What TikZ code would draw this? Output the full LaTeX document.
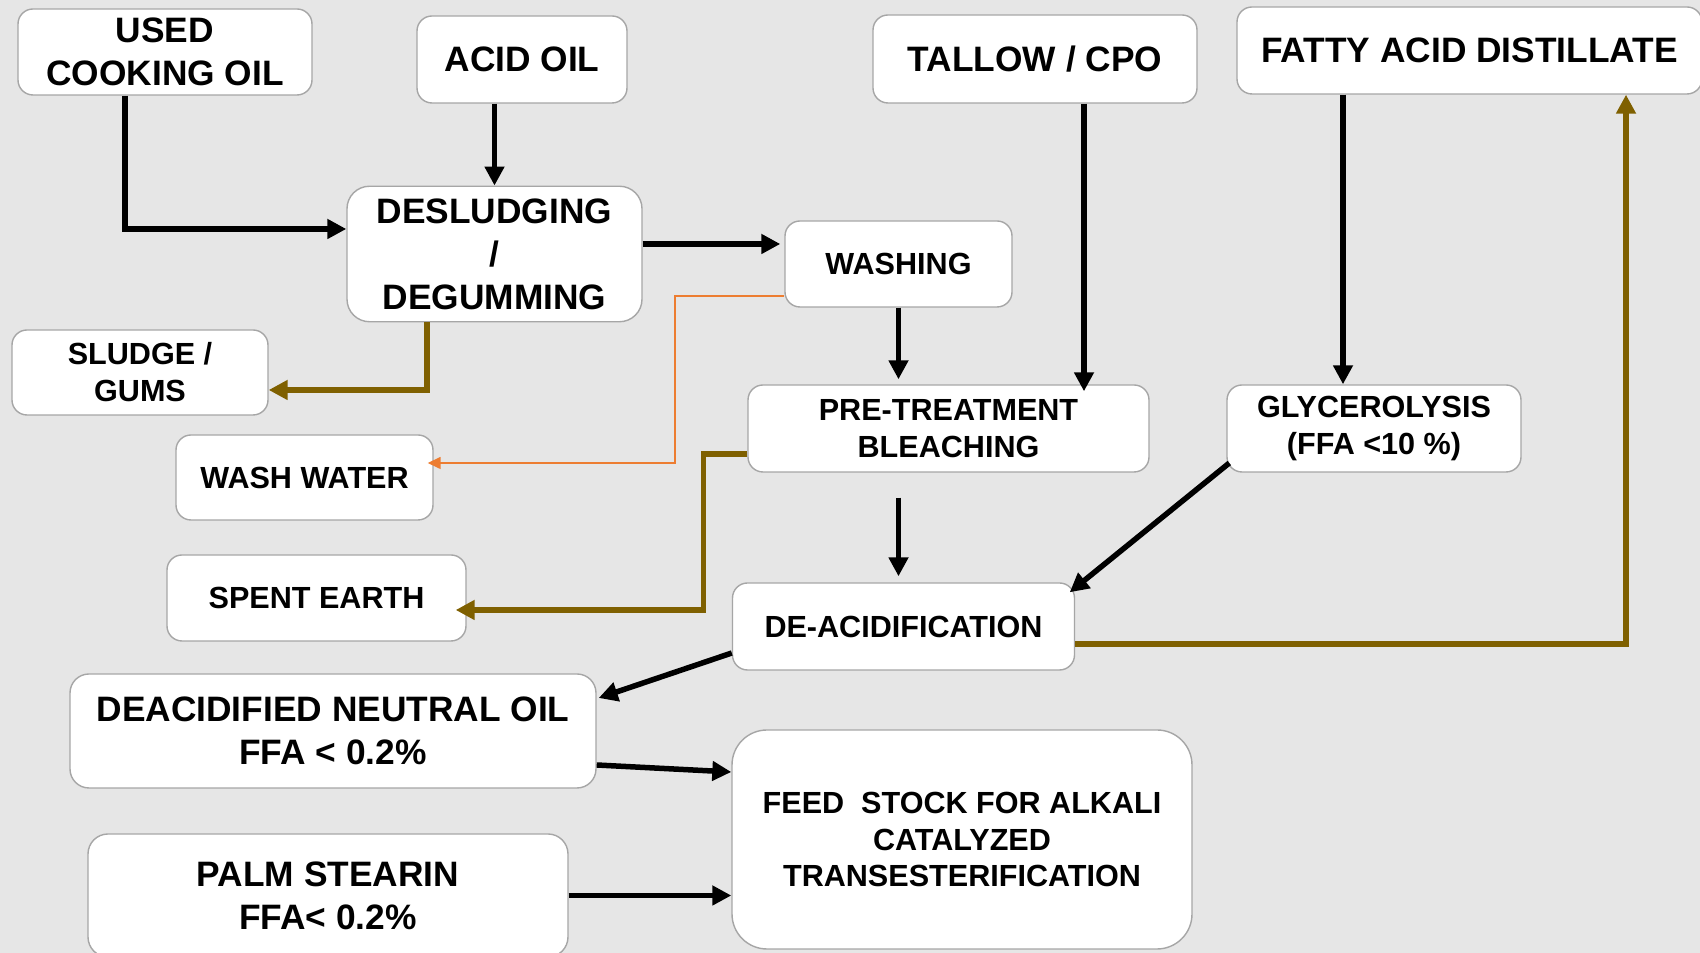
\documentclass[tikz,border=0pt]{standalone}
\usepackage{fontspec}
\setmainfont{Liberation Sans}
\usepackage{tikz}
\usetikzlibrary{calc}
\usetikzlibrary{arrows.meta}

\definecolor{slidegray}{RGB}{230,230,230}
\definecolor{boxgray}{RGB}{166,166,166}
\definecolor{wastebrown}{RGB}{127,96,0}
\definecolor{waterorange}{RGB}{237,125,49}

\tikzset{
  box/.style={draw=boxgray, fill=white, line width=0.8pt, rounded corners=0.3cm, align=center, inner sep=0pt},
  bigtext/.style={font=\fontsize{20.1}{24.5}\selectfont\bfseries},
  smalltext/.style={font=\fontsize{17.4}{21}\selectfont\bfseries},
  flow/.style={line width=0.11cm, -{Triangle[length=0.38cm,width=0.38cm]}},
  waste/.style={flow, draw=wastebrown},
  leak/.style={draw=waterorange, line width=0.85pt, -{Triangle[length=0.26cm,width=0.24cm]}}
}

\begin{document}
\begin{tikzpicture}

        % Slide background
        \clip (0,0) rectangle (34,19.06);
        \fill[slidegray] (0,0) rectangle (34,19.06);

        % Raw feed stocks (top row)
        \node[box, bigtext, minimum width=5.88cm, minimum height=1.72cm] (used) at (3.30,18.02) {USED\\COOKING OIL};
        \node[box, bigtext, minimum width=4.20cm, minimum height=1.74cm] (acid) at (10.44,17.87) {ACID OIL};
        \node[box, bigtext, minimum width=6.48cm, minimum height=1.76cm] (tallow) at (20.70,17.88) {TALLOW / CPO};
        \node[box, bigtext, minimum width=9.30cm, minimum height=1.74cm] (fatty) at (29.39,18.05) {FATTY ACID DISTILLATE};

        % Process steps
        \node[box, bigtext, rounded corners=0.45cm, minimum width=5.90cm, minimum height=2.71cm] (desl) at (9.89,13.98) {DESLUDGING\\/\\DEGUMMING};
        \node[box, smalltext, minimum width=4.54cm, minimum height=1.72cm] (wash) at (17.97,13.78) {WASHING};
        \node[box, smalltext, minimum width=8.02cm, minimum height=1.74cm] (pretreat) at (18.97,10.49) {PRE-TREATMENT\\BLEACHING};
        \node[box, smalltext, minimum width=5.88cm, minimum height=1.74cm] (glyc) at (27.48,10.49) {GLYCEROLYSIS\\(FFA <10 \%)};
        \node[box, smalltext, minimum width=6.84cm, minimum height=1.74cm] (deacid) at (18.07,6.53) {DE-ACIDIFICATION};

        % By-products
        \node[box, smalltext, minimum width=5.12cm, minimum height=1.70cm] (sludge) at (2.80,11.61) {SLUDGE /\\GUMS};
        \node[box, smalltext, minimum width=5.14cm, minimum height=1.70cm] (washwater) at (6.09,9.51) {WASH WATER};
        \node[box, smalltext, minimum width=5.98cm, minimum height=1.72cm] (spent) at (6.33,7.10) {SPENT EARTH};

        % Products
        \node[box, bigtext, rounded corners=0.38cm, minimum width=10.52cm, minimum height=2.28cm] (neutral) at (6.66,4.44) {DEACIDIFIED NEUTRAL OIL\\FFA < 0.2\%};
        \node[box, bigtext, rounded corners=0.4cm, minimum width=9.60cm, minimum height=2.46cm] (palm) at (6.56,1.15) {PALM STEARIN\\FFA< 0.2\%};
        \node[box, smalltext, rounded corners=0.7cm, minimum width=9.20cm, minimum height=4.38cm] (feed) at (19.24,2.27) {FEED\ \ STOCK FOR ALKALI\\CATALYZED\\TRANSESTERIFICATION};

        % Main flow
        \draw[flow] ($(used.south)+(-0.8,0)$) |- ($(desl.west)+(0,0.5)$);
        \draw[flow] (desl.north |- acid.south) -- (desl.north);
        \draw[flow, shorten >=0.08cm] ($(desl.east)+(0,0.2)$) coordinate (d1) -- (d1 -| wash.west);
        \draw[flow, shorten >=0.1cm] (wash.south) -- (wash.south |- pretreat.north);
        \draw[flow, shorten >=-0.14cm] ($(tallow.south)+(0.98,0)$) coordinate (t1) -- (t1 |- pretreat.north);
        \draw[flow, shorten <=0.5cm, shorten >=0.12cm] (wash.south |- pretreat.south) -- (wash.south |- deacid.north);
        \draw[flow] (fatty.south -| 26.86,0) -- (glyc.north -| 26.86,0);
        \draw[flow] ($(glyc.west)+(0.06,-0.69)$) -- ($(deacid.north east)+(-0.11,-0.2)$);
        \draw[flow] ($(deacid.west)+(0,-0.53)$) -- ($(neutral.east)+(0.04,0.66)$);
        \draw[flow] ($(neutral.east)+(0,-0.68)$) -- ($(feed.west)+(0,1.35)$);
        \draw[flow] (palm.east) -- (palm.east -| feed.west);

        % Streams leaving the process
        \draw[waste] ($(desl.south)+(-1.35,0)$) |- ($(sludge.east)+(0,-0.35)$);
        \draw[waste, shorten >=-0.22cm] ($(pretreat.west)+(0,-0.51)$) -- ++(-0.88,0) |- ($(spent.east)+(0,-0.24)$);
        \draw[waste] ($(deacid.east)+(0,-0.35)$) -| ($(fatty.south)+(3.13,0)$);
        \draw[leak, shorten >=-0.12cm] ($(wash.west)+(0,-0.64)$) -- ++(-2.19,0) |- ($(washwater.east)+(0,0.29)$);

    \end{tikzpicture}
\end{document}
